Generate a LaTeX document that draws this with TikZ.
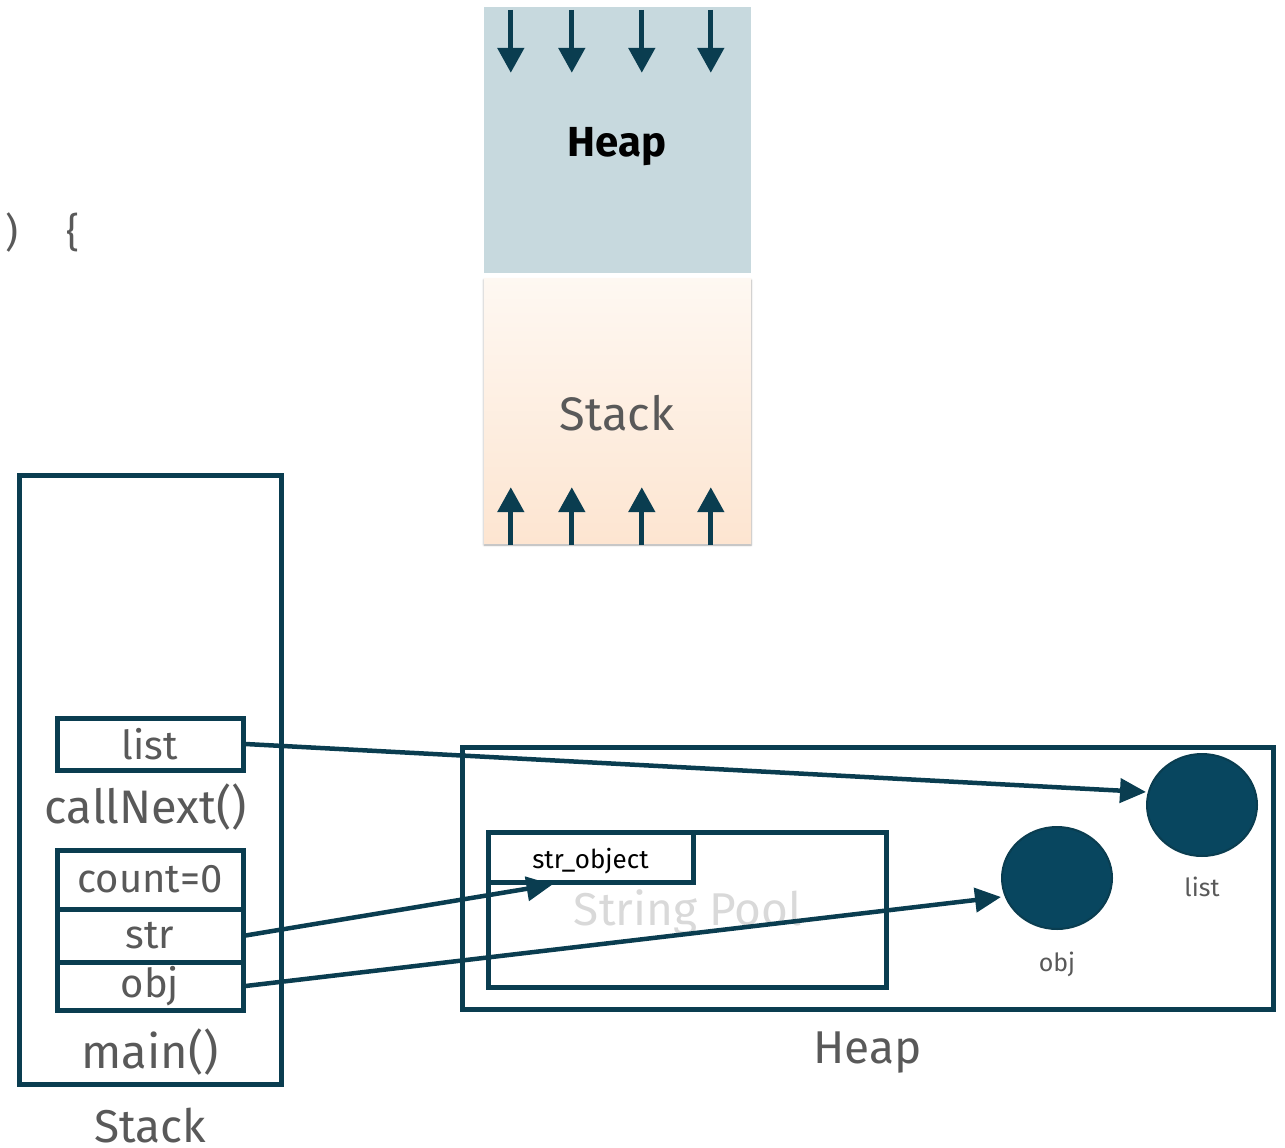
\documentclass[tikz,border=0pt]{standalone}
\usepackage{fontspec}
\setmainfont{Fira Sans}
\usetikzlibrary{arrows.meta,positioning,shapes.geometric,shadows.blur}

\definecolor{ink}{HTML}{0A3D50}
\definecolor{blob}{HTML}{08465F}
\definecolor{heapfill}{HTML}{C7D9DE}
\definecolor{stacktop}{HTML}{FEF8F2}
\definecolor{stackbot}{HTML}{FDE5D1}
\definecolor{txtgray}{HTML}{595959}
\definecolor{poolgray}{HTML}{D9D9D9}

\newcommand{\fs}[1]{\fontsize{#1}{#1}\selectfont}

\begin{document}
\begin{tikzpicture}
[
    x=1pt, y=-1pt,
    every node/.style={inner sep=0pt},
    word/.style={font=\fs{40}, text=txtgray},
    frame/.style={draw=ink, line width=5.5pt},
    cell/.style={draw=ink, line width=5pt, fill=white, minimum width=186pt, word},
    growarrow/.style={draw=ink, line width=5pt, -{Triangle[width=26pt,length=25pt]}},
    ptr/.style={draw=ink, line width=4.5pt, -{Triangle[width=24pt,length=26pt]}},
    blobnode/.style={ellipse, fill=blob, draw=ink, line width=2pt, minimum width=110pt, minimum height=102pt},
]
\useasboundingbox (0,0) rectangle (1285,1148);

% the two memory segments at the top
\node[fill=heapfill, minimum width=267pt, minimum height=266pt] (heapseg) at (617.5,140) {};
\node[font=\fs{42}\bfseries] (heaptitle) at (617,147) {Heap};
\node[top color=stacktop, bottom color=stackbot, minimum width=267pt, minimum height=265pt,
      blur shadow={shadow xshift=0pt, shadow yshift=-2pt, shadow blur steps=6, shadow opacity=35}] (stackseg) at (617.5,410.5) {};
\node[word, font=\fs{47}] (stacktitle) at (617,413) {Stack};
\foreach \dx in {27,88,158,227}
{
    \draw[growarrow] ([xshift=\dx pt,yshift=-3pt]heapseg.north west) -- ++(0,63);
    \draw[growarrow] ([xshift=\dx pt,yshift=-2pt]stackseg.south west) -- ++(0,-58);
}

% leftover code text
\node[word] (paren) at (12,232) {)};
\node[word] (brace) at (73,232) {\{};

% stack frames
\node[frame, minimum width=262pt, minimum height=609pt] (stackframe) at (150.5,780) {};
\node[word, font=\fs{46}, below=21pt of stackframe] (stacklabel) {Stack};
\node[cell, minimum height=52pt] (listcell) at (150,744) {list};
\node[word, font=\fs{47}] (callnext) at (146,807) {callNext()};
\node[cell, minimum height=59pt] (countcell) at (150,879.5) {count=0};
\node[cell, minimum height=53pt] (strcell) at (150,935.5) {str};
\node[cell, minimum height=48pt] (objcell) at (150,986) {obj};
\node[word, font=\fs{47}] (mainfn) at (150,1052) {main()};

% heap with the string pool
\node[draw=ink, line width=5pt, minimum width=811pt, minimum height=262pt] (heapbox) at (867.5,878) {};
\node[word, font=\fs{46}, below=20pt of heapbox] (heaplabel) {Heap};
\node[draw=ink, line width=5pt, minimum width=398pt, minimum height=155pt] (pool) at (687,909.5) {};
\node[font=\fs{46}, text=poolgray] (poolname) at (688,912) {String Pool};
\node[draw=ink, line width=5pt, fill=white, minimum width=205pt, minimum height=50pt, font=\fs{26},
      text height=26pt, text depth=4pt] (strobj) at (590.5,857) {str\_object};

% objects
\node[blobnode] (listobj) at (1202,805) {};
\node[word, font=\fs{25}, below=20pt of listobj] (listname) {list};
\node[blobnode] (objobj) at (1057,878) {};
\node[word, font=\fs{25}, below=22pt of objobj] (objname) {obj};

% references
\draw[ptr] (listcell.east) -- ([yshift=13pt]listobj.west);
\draw[ptr] (strcell.east) -- ([xshift=-38pt]strobj.south);
\draw[ptr] (objcell.east) -- ([yshift=-19pt]objobj.west);
\end{tikzpicture}
\end{document}
